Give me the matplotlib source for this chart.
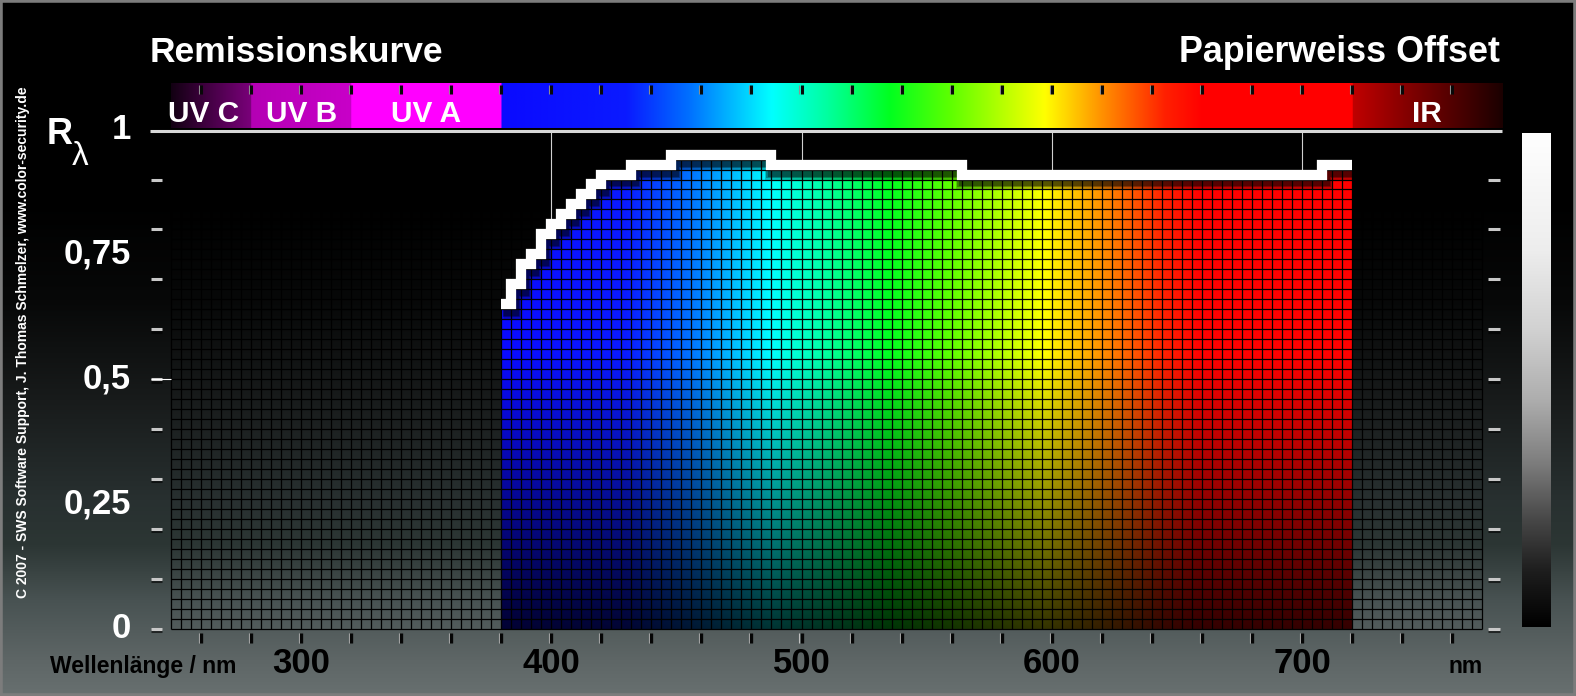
"""
Remission curve of offset paper white, drawn on a spectral grid.
"""

import numpy as np
import matplotlib
matplotlib.use("Agg")
from matplotlib import pyplot as plt
from matplotlib.colors import to_rgb
from matplotlib.patches import Rectangle

plt.rcParams['font.family'] = ['Liberation Sans', 'DejaVu Sans']

# reflectance, one value per 4 nm band starting at 380 nm
band_start = 380
band_width = 4
reflectance = [0.65, 0.69, 0.73, 0.75, 0.79, 0.81, 0.83, 0.85, 0.87, 0.89,
               0.91, 0.91, 0.91,
               0.93, 0.93, 0.93, 0.93,
               0.95, 0.95, 0.95, 0.95, 0.95, 0.95, 0.95, 0.95, 0.95, 0.95,
               0.93, 0.93, 0.93, 0.93, 0.93, 0.93, 0.93, 0.93, 0.93, 0.93,
               0.93, 0.93, 0.93, 0.93, 0.93, 0.93, 0.93, 0.93, 0.93,
               0.91, 0.91, 0.91, 0.91, 0.91, 0.91, 0.91, 0.91, 0.91, 0.91,
               0.91, 0.91, 0.91, 0.91, 0.91, 0.91, 0.91, 0.91, 0.91, 0.91,
               0.91, 0.91, 0.91, 0.91, 0.91, 0.91, 0.91, 0.91, 0.91, 0.91,
               0.91, 0.91, 0.91, 0.91, 0.91, 0.91,
               0.93, 0.93, 0.93]

y_tick_vals = [0, 0.25, 0.5, 0.75, 1]
y_tick_labels = ["0", "0,25", "0,5", "0,75", "1"]
y_minor = [0, 0.1, 0.2, 0.3, 0.4, 0.5, 0.6, 0.7, 0.8, 0.9]
x_tick_vals = [300, 400, 500, 600, 700]
x_minor = np.arange(260, 761, 20)
uv_ir_names = ["UV C", "UV B", "UV A", "IR"]
uv_ir_lo = [248, 280, 320, 720]
uv_ir_hi = [280, 320, 380, 780]
uv_ir_label_x = [261, 300, 350, 750]
grid_lo, grid_hi = 248, 772

# spectrum colours (style)
spec_nm = [380, 430, 455, 488, 510, 535, 560, 597, 620, 645, 660, 720]
spec_col = ['#0a0aff', '#0a1aff', '#0070ff', '#00ffff', '#00ffa0', '#00ff20',
            '#60ff00', '#ffff00', '#ff9000', '#ff2000', '#ff0000', '#ff0000']

W, H = 1576, 696
PX_NM = 2.502
X0 = 400 - 551.3 / PX_NM
PX_R = 499.0
Y0 = 628.6


def px2nm(px):
    return X0 + px / PX_NM


def px2r(py):
    return (Y0 - py) / PX_R


def interp_colors(x, xs, cols):
    rgb = np.array([to_rgb(c) for c in cols])
    return np.stack([np.interp(x, xs, rgb[:, i]) for i in range(3)], axis=-1)


fig = plt.figure(figsize=(W / 100, H / 100), dpi=100)
ax = fig.add_axes([0, 0, 1, 1])
xlim = (px2nm(0), px2nm(W))
ylim = (px2r(H), px2r(0))
ax.set_xlim(*xlim)
ax.set_ylim(*ylim)
ax.axis('off')

# background gradient
bg_py = [0, 200, 300, 400, 500, 545, 600, 660, 696]
bg_col = ['#000000', '#000000', '#070808', '#181b1b', '#283030', '#2c3634',
          '#485252', '#5e6666', '#687070']
rows = np.arange(H) + 0.5
bg = interp_colors(rows, bg_py, bg_col)[:, None, :]
ax.imshow(bg, extent=(xlim[0], xlim[1], ylim[0], ylim[1]), origin='upper',
          aspect='auto', interpolation='bilinear', zorder=0)

# coloured reflectance bars
refl = np.array(reflectance)
n = len(refl)
edges = band_start + band_width * np.arange(n + 1)
cols_nm = band_start + (np.arange(n * band_width * 4) + 0.5) * 0.25
rows_r = (np.arange(500) + 0.5) * 0.002
col_val = refl[((cols_nm - band_start) // band_width).astype(int)]
spec = interp_colors(cols_nm, spec_nm, spec_col)
bright = np.clip(0.2 + 1.45 * rows_r, 0, 1)
rgba = np.zeros((len(rows_r), len(cols_nm), 4))
rgba[..., :3] = spec[None, :, :] * bright[:, None, None]
rgba[..., 3] = (rows_r[:, None] <= col_val[None, :]).astype(float)
ax.imshow(rgba, extent=(edges[0], edges[-1], 0, 1), origin='lower',
          aspect='auto', interpolation='nearest', zorder=2)

# grid
gx = np.arange(grid_lo, grid_hi + 1, band_width)
gy = np.arange(0, 0.99, 0.02)
ax.vlines(gx, 0, 1.0, color='black', lw=0.9, zorder=3)
ax.hlines(gy, grid_lo, grid_hi, color='black', lw=0.9, zorder=3)

# white vertical guide lines above the curve
for xv in x_tick_vals[1:]:
    v = refl[int((xv - band_start) // band_width)]
    ax.vlines(xv, v, 1.0, color='#d0d0d0', lw=0.8, zorder=4)

# curve with shadow
sx = edges
sy = np.append(refl, refl[-1])
for lw, a in [(12, 0.25), (10, 0.3), (8, 0.35)]:
    ax.plot(sx + 0.8, sy - 0.012, drawstyle='steps-post', color='black',
            lw=lw, alpha=a, solid_joinstyle='miter', solid_capstyle='butt',
            zorder=5)
ax.plot(sx, sy, drawstyle='steps-post', color='white', lw=7.4,
        solid_joinstyle='miter', solid_capstyle='butt', zorder=6)

# spectrum bar on top
bar_nm = 248 + (np.arange((780 - 248) * 4) + 0.5) * 0.25
bar = np.zeros((len(bar_nm), 3))
m = bar_nm < 280
bar[m] = interp_colors(bar_nm[m], [248, 280], ['#120012', '#7a007a'])
m = (bar_nm >= 280) & (bar_nm < 320)
bar[m] = interp_colors(bar_nm[m], [280, 320], ['#b400b4', '#c800c8'])
m = (bar_nm >= 320) & (bar_nm < 380)
bar[m] = to_rgb('#ff00ff')
m = (bar_nm >= 380) & (bar_nm < 720)
bar[m] = interp_colors(bar_nm[m], spec_nm, spec_col)
m = bar_nm >= 720
bar[m] = interp_colors(bar_nm[m], [720, 780], ['#c00000', '#1a0000'])
ax.imshow(bar[None, :, :], extent=(248, 780, 1.004, 1.094), origin='lower',
          aspect='auto', interpolation='bilinear', zorder=2)
ax.hlines(0.997, px2nm(150), 780, color='#d8d8d8', lw=2.2, zorder=7)

for name, xc in zip(uv_ir_names, uv_ir_label_x):
    ax.text(xc, px2r(122), name, color='white', fontsize=21.5,
            fontweight='bold', ha='center', va='baseline', zorder=8)

# tick marks
ax.vlines(x_minor - 0.8, px2r(94), px2r(85), color='#909090', lw=0.8, zorder=8)
ax.vlines(x_minor, px2r(94), px2r(85), color='#080808', lw=2.2, zorder=8)
ax.vlines(x_minor - 0.8, px2r(643), px2r(633), color='#c0c0c0', lw=0.8, zorder=8)
ax.vlines(x_minor, px2r(643), px2r(633), color='#050505', lw=2.4, zorder=8)
ym = np.array(y_minor)
for a, b in [(151, 162), (1488, 1500)]:
    ax.hlines(ym - 0.005, px2nm(a), px2nm(b), color='black', lw=2.2,
              alpha=0.6, zorder=8)
    ax.hlines(ym, px2nm(a), px2nm(b), color='#c8c8c8', lw=2.2, zorder=8)
ax.hlines(0.5, px2nm(151), grid_lo, color='white', lw=0.8, zorder=8)

# right grey scale bar
cb_py = [133, 250, 330, 400, 460, 520, 570, 627]
cb_grey = [1.0, 0.93, 0.82, 0.68, 0.5, 0.28, 0.12, 0.0]
cb_rows = np.linspace(133, 627, 400)
cb = np.interp(cb_rows, cb_py, cb_grey)
cb_img = np.repeat(cb[:, None, None], 3, axis=2)
ax.imshow(cb_img, extent=(px2nm(1522), px2nm(1550), px2r(627), px2r(133)),
          origin='upper', aspect='auto', interpolation='bilinear', zorder=2)

# texts
bold = dict(fontweight='bold')
ax.text(px2nm(150), px2r(62), "Remissionskurve", color='white', fontsize=25.5,
        ha='left', va='baseline', **bold)
ax.text(px2nm(1500), px2r(62), "Papierweiss Offset", color='white',
        fontsize=25.8, ha='right', va='baseline', **bold)
for v, lab in zip(y_tick_vals, y_tick_labels):
    ax.text(px2nm(131), v, lab, color='white', fontsize=25, ha='right',
            va='center', **bold)
ax.text(px2nm(47), px2r(144), "R", color='white', fontsize=26, ha='left',
        va='baseline', **bold)
ax.text(px2nm(72), px2r(165), "λ", color='white', fontsize=24, ha='left',
        va='baseline')
ax.text(px2nm(23), px2r(342),
        "C 2007 - SWS Software Support, J. Thomas Schmelzer, www.color-security.de",
        color='white', fontsize=10, rotation=90, ha='center', va='center', **bold)
ax.text(px2nm(50), px2r(673), "Wellenlänge / nm", color='black', fontsize=16.5,
        ha='left', va='baseline', **bold)
for xv in x_tick_vals:
    ax.text(xv, px2r(673), str(xv), color='black', fontsize=25, ha='center',
            va='baseline', **bold)
ax.text(px2nm(1483), px2r(673), "nm", color='black', fontsize=16.5,
        ha='right', va='baseline', **bold)

fig.patches.append(Rectangle((0, 0), 1, 1, transform=fig.transFigure,
                             fill=False, ec='#7c7c7c', lw=4, zorder=10))

fig.savefig("out.png", dpi=100, facecolor='black')
